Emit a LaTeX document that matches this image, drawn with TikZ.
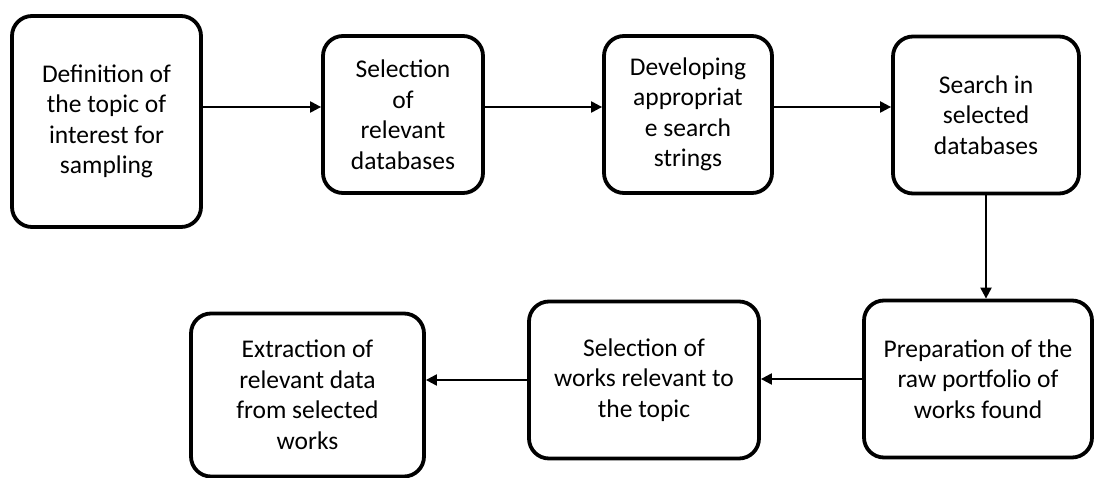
\documentclass[tikz,border=0pt]{standalone}
\usepackage{fontspec}
\setmainfont{Carlito}
\usetikzlibrary{arrows.meta}

\begin{document}
\begin{tikzpicture}[x=1pt,y=-1pt,
        box/.style={draw, line width=3.8pt, rounded corners=20pt, align=center, inner sep=0pt, font=\fontsize{25.5}{30.5}\selectfont},
        arr/.style={line width=2.2pt, -{Triangle[length=11pt,width=11pt]}}]
            \useasboundingbox (0,0) rectangle (1097,478);

            \node (A) at (106.5,121.5) [box, minimum width=189pt, minimum height=211pt] {Definition of\\the topic of\\interest for\\sampling};
            \node (B) at (403,114.5) [box, minimum width=160pt, minimum height=157pt] {Selection\\of\\relevant\\databases};
            \node (C) at (688,114.5) [box, minimum width=168pt, minimum height=157pt] {Developing\\appropriat\\e search\\strings};
            \node (D) at (986,115) [box, minimum width=186pt, minimum height=157pt] {Search in\\selected\\databases};
            \node (E) at (978,379) [box, minimum width=228pt, minimum height=157pt] {Preparation of the\\raw portfolio of\\works found};
            \node (F) at (644,380) [box, minimum width=230pt, minimum height=157pt] {Selection of\\works relevant to\\the topic};
            \node (G) at (307.5,395) [box, minimum width=233pt, minimum height=163pt] {Extraction of\\relevant data\\from selected\\works};

            \coordinate (row) at (0,107);

            \foreach \a/\b in {A/B, B/C, C/D}
                {
                    \draw [arr] (\a.east |- row) -- (\b.west |- row);
                }

                \draw [arr] (D.south) -- (D.south |- E.north);
                \draw [arr] (E.west) -- (E.west -| F.east);
                \draw [arr] (F.west) -- (F.west -| G.east);

        \end{tikzpicture}
\end{document}
